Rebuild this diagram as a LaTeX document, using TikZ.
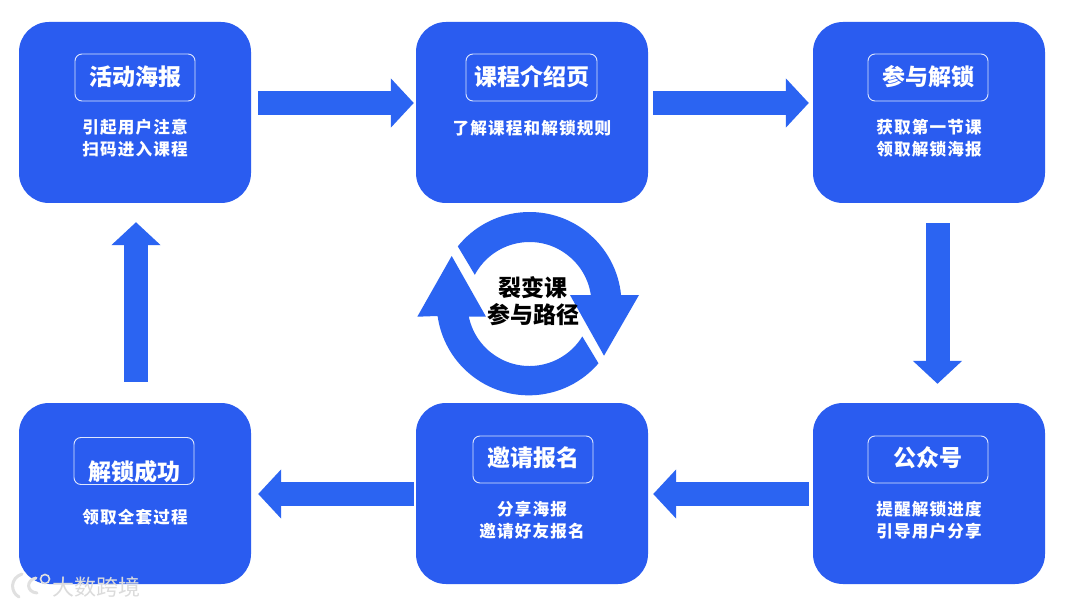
\documentclass[tikz,border=0pt]{standalone}
\usepackage{fontspec}
\setmainfont{Noto Sans CJK SC}
\usetikzlibrary{arrows.meta}
\definecolor{cardblue}{HTML}{2A5CF0}
\definecolor{flowblue}{HTML}{2B64F2}
\tikzset{
  card/.style={fill=cardblue,rounded corners=30pt,minimum width=232pt,minimum height=181pt,inner sep=0pt},
  titlebox/.style={draw=white!85!cardblue,line width=0.9pt,rounded corners=7pt,minimum height=47pt,inner sep=0pt},
  titletext/.style={text=white,font=\fontsize{23pt}{26pt}\bfseries\selectfont,inner sep=0pt},
  bodytext/.style={text=white,align=center,inner sep=0pt,font=\fontsize{16.6pt}{22pt}\bfseries\addfontfeature{LetterSpace=7}\selectfont},
  blockarrow/.style={draw=flowblue,line width=24pt,-{Triangle[length=23pt,width=48pt,fill=flowblue]}},
  ringtext/.style={text=black,inner sep=0pt,align=center,font=\fontsize{23pt}{27pt}\bfseries\selectfont},
}
\begin{document}
\begin{tikzpicture}[x=1pt,y=-1pt]
\useasboundingbox (0,0) rectangle (1080,607);
\fill[white] (0,0) rectangle (1080,607);
% cards
\node[card] (a) at (135,112.5) {};
\node[card] (b) at (532,112.5) {};
\node[card] (c) at (929,112.5) {};
\node[card] (d) at (929,493.5) {};
\node[card] (e) at (532,493.5) {};
\node[card] (f) at (135,493.5) {};
% title frames
\node[titlebox,minimum width=120pt] (ta) at (135,77.5) {};
\node[titlebox,minimum width=131pt] (tb) at (531.5,77.5) {};
\node[titlebox,minimum width=120pt] (tc) at (928,77.5) {};
\node[titlebox,minimum width=120pt] (td) at (928,459.5) {};
\node[titlebox,minimum width=120pt] (te) at (533,459.5) {};
\node[titlebox,minimum width=120pt] (tf) at (134,461) {};
% titles
\node[titletext] (tta) at (135,77) {活动海报};
\node[titletext] (ttb) at (531.5,77) {课程介绍页};
\node[titletext] (ttc) at (928,77) {参与解锁};
\node[titletext] (ttd) at (928,458) {公众号};
\node[titletext] (tte) at (533,458) {邀请报名};
\node[titletext] (ttf) at (134,472) {解锁成功};
% bodies
\node[bodytext] (ba) at (135,138) {引起用户注意\\扫码进入课程};
\node[bodytext] (bb) at (532,128) {了解课程和解锁规则};
\node[bodytext] (bc) at (929,138) {获取第一节课\\领取解锁海报};
\node[bodytext] (bd) at (929,520) {提醒解锁进度\\引导用户分享};
\node[bodytext] (be) at (532,520) {分享海报\\邀请好友报名};
\node[bodytext] (bf) at (135,517) {领取全套过程};
% flow arrows
\draw[blockarrow] ([shift={(7,-9.5)}]a.east) -- ([shift={(-2,-9.5)}]b.west);
\draw[blockarrow] ([shift={(5,-9.5)}]b.east) -- ([shift={(-4,-9.5)}]c.west);
\draw[blockarrow] ([shift={(8.5,20)}]c.south) -- ([shift={(8.5,-19)}]d.north);
\draw[blockarrow] ([shift={(-4,0.5)}]d.west) -- ([shift={(5,0.5)}]e.east);
\draw[blockarrow] ([shift={(-2,0.5)}]e.west) -- ([shift={(7,0.5)}]f.east);
\draw[blockarrow] ([shift={(1,-21)}]f.north) -- ([shift={(1,19)}]a.south);
% cycle
\begin{scope}[shift={(529.5,304)},y=1pt]
\coordinate (ringcentre) at (0,0);
\fill[flowblue] (141.2:92pt) arc[start angle=141.2,end angle=5.6,radius=92pt]
  -- (109.5,9) -- (74.5,-51.7) -- (40.5,9) -- (8.3:62pt)
  arc[start angle=8.3,end angle=151.9,radius=62pt] -- cycle;
\fill[flowblue] (-40.7:91pt) arc[start angle=-40.7,end angle=-172.1,radius=92pt]
  -- (-112.2,-12.7) -- (-77.8,48) -- (-43.5,-12.7) -- (-168.2:62pt)
  arc[start angle=-168.2,end angle=-31.6,radius=62pt] -- cycle;
\end{scope}
\node[ringtext] (rt1) at (532.5,287.5) {裂变课};
\node[ringtext] (rt2) at (533,315) {参与路径};
% watermark
\begin{scope}[line cap=round]
\draw[black!12,line width=3pt] (22,574) .. controls (10,578) and (10,592) .. (19,597);
\draw[black!12,line width=3pt] (36,578) .. controls (26,580) and (26,592) .. (37,593);
\draw[black!12,line width=1.6pt] (45,579) circle (4.5pt);
\end{scope}
\node[text=black!14,inner sep=0pt,font=\fontsize{22pt}{24pt}\selectfont] (wm) at (96.5,587) {大数跨境};
\end{tikzpicture}
\end{document}
